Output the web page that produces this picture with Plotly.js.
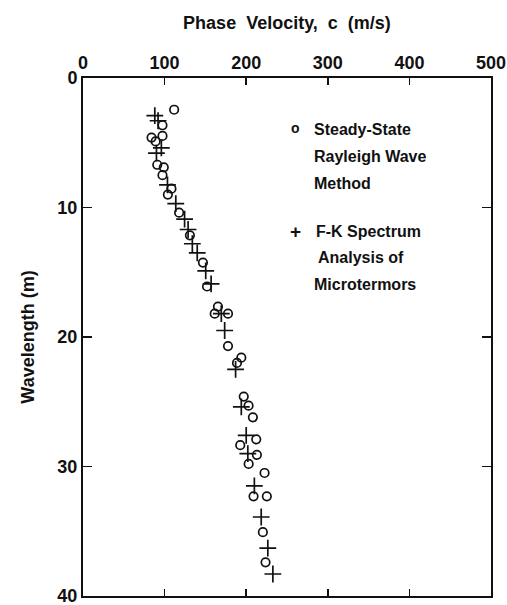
<!DOCTYPE html>
<html>
<head>
<meta charset="utf-8">
<script src="https://cdn.plot.ly/plotly-3.0.1.min.js"></script>
<style>html,body{margin:0;padding:0;background:#fff;}#chart{width:507px;height:605px;}</style>
</head>
<body>
<div id="chart"></div>
<script>
// Steady-State Rayleigh Wave Method (open circles)
const circleVelocity = [111.7, 97.4, 84, 97.4, 89, 91, 99, 97.4, 108.4, 104, 117.8, 131, 147, 152, 165.4, 161.4, 177.7, 177.7, 194, 188.7, 197, 202.9, 208.2, 212.3, 192.7, 213.1, 203, 222.5, 209, 225.3, 220.4, 223.7];
const circleWavelength = [2.45, 3.65, 4.6, 4.47, 4.9, 6.7, 6.9, 7.5, 8.55, 9.0, 10.4, 12.15, 14.25, 16.1, 17.65, 18.2, 18.2, 20.7, 21.6, 22.0, 24.6, 25.3, 26.2, 27.9, 28.35, 29.1, 29.8, 30.5, 32.3, 32.3, 35.07, 37.4];
// F-K Spectrum Analysis of Microtermors (crosses)
const crossVelocity = [88, 92, 96, 90, 103.5, 113.7, 124.5, 128.8, 134, 140, 150.4, 157, 169.5, 173.6, 187, 194, 200, 202, 210, 218.4, 226.5, 232.7];
const crossWavelength = [2.9, 3.3, 5.4, 5.8, 8.25, 9.7, 10.9, 11.7, 12.8, 13.5, 14.9, 15.9, 18.2, 19.5, 22.5, 25.4, 27.6, 29.0, 31.5, 33.9, 36.3, 38.3];

const xTicks = [0, 100, 200, 300, 400, 500];
const yTicks = [0, 10, 20, 30, 40];
const legendCircleLines = ['Steady-State', 'Rayleigh Wave', 'Method'];
const legendCrossLines = ['F-K Spectrum', 'Analysis of', 'Microtermors'];

const FONT = 'Liberation Sans, Arial, Helvetica, sans-serif';
const INK = '#111';

const traces = [
  {
    x: circleVelocity, y: circleWavelength, type: 'scatter', mode: 'markers',
    name: 'Steady-State Rayleigh Wave Method', showlegend: false,
    marker: {symbol: 'circle-open', size: 8.5, color: INK, line: {width: 1.7, color: INK}}
  },
  {
    x: crossVelocity, y: crossWavelength, type: 'scatter', mode: 'markers',
    name: 'F-K Spectrum Analysis of Microtermors', showlegend: false,
    marker: {symbol: 'cross-thin-open', size: 12, color: INK, line: {width: 1.7, color: INK}}
  }
];

const annotations = [];
const addLine = (text, x, y, size) => annotations.push({
  xref: 'paper', yref: 'paper', x: x, y: y, xanchor: 'left', yanchor: 'middle',
  text: '<b>' + text + '</b>', showarrow: false, font: {family: FONT, size: size, color: INK}
});
addLine('o', 0.505, 0.903, 14);
const g1y = [0.901, 0.848, 0.797];
legendCircleLines.forEach((t, i) => addLine(t, 0.562, g1y[i], 16));
addLine('+', 0.503, 0.704, 19);
const g2y = [0.704, 0.653, 0.601];
const g2x = [0.567, 0.572, 0.562];
legendCrossLines.forEach((t, i) => addLine(t, g2x[i], g2y[i], 16));

const layout = {
  width: 507, height: 605,
  margin: {l: 83, r: 16, t: 78, b: 9},
  paper_bgcolor: '#fff', plot_bgcolor: '#fff',
  font: {family: FONT, color: INK},
  showlegend: false,
  xaxis: {
    side: 'top', range: [0, 500], tickvals: xTicks, ticktext: xTicks.map(v => '<b>' + v + '</b>'),
    ticks: 'inside', ticklen: 7, tickwidth: 1.5, tickcolor: INK,
    mirror: 'ticks', showline: true, linewidth: 2, linecolor: INK,
    showgrid: false, zeroline: false, ticklabeloverflow: 'allow',
    tickfont: {family: FONT, size: 18, color: INK},
    title: {text: '<b>Phase\u00a0 Velocity,\u00a0 c\u00a0 (m/s)</b>', font: {family: FONT, size: 18, color: INK}, standoff: 18}
  },
  yaxis: {
    range: [40, 0], tickvals: yTicks, ticktext: yTicks.map(v => '<b>' + v + '</b>'),
    ticks: 'inside', ticklen: 9, tickwidth: 1.5, tickcolor: INK,
    mirror: 'ticks', showline: true, linewidth: 2, linecolor: INK,
    showgrid: false, zeroline: false, ticklabeloverflow: 'allow',
    tickfont: {family: FONT, size: 18, color: INK},
    title: {text: '<b>Wavelength (m)</b>', font: {family: FONT, size: 18, color: INK}, standoff: 18}
  },
  annotations: annotations
};

Plotly.newPlot('chart', traces, layout, {displayModeBar: false, staticPlot: true});
</script>
</body>
</html>
